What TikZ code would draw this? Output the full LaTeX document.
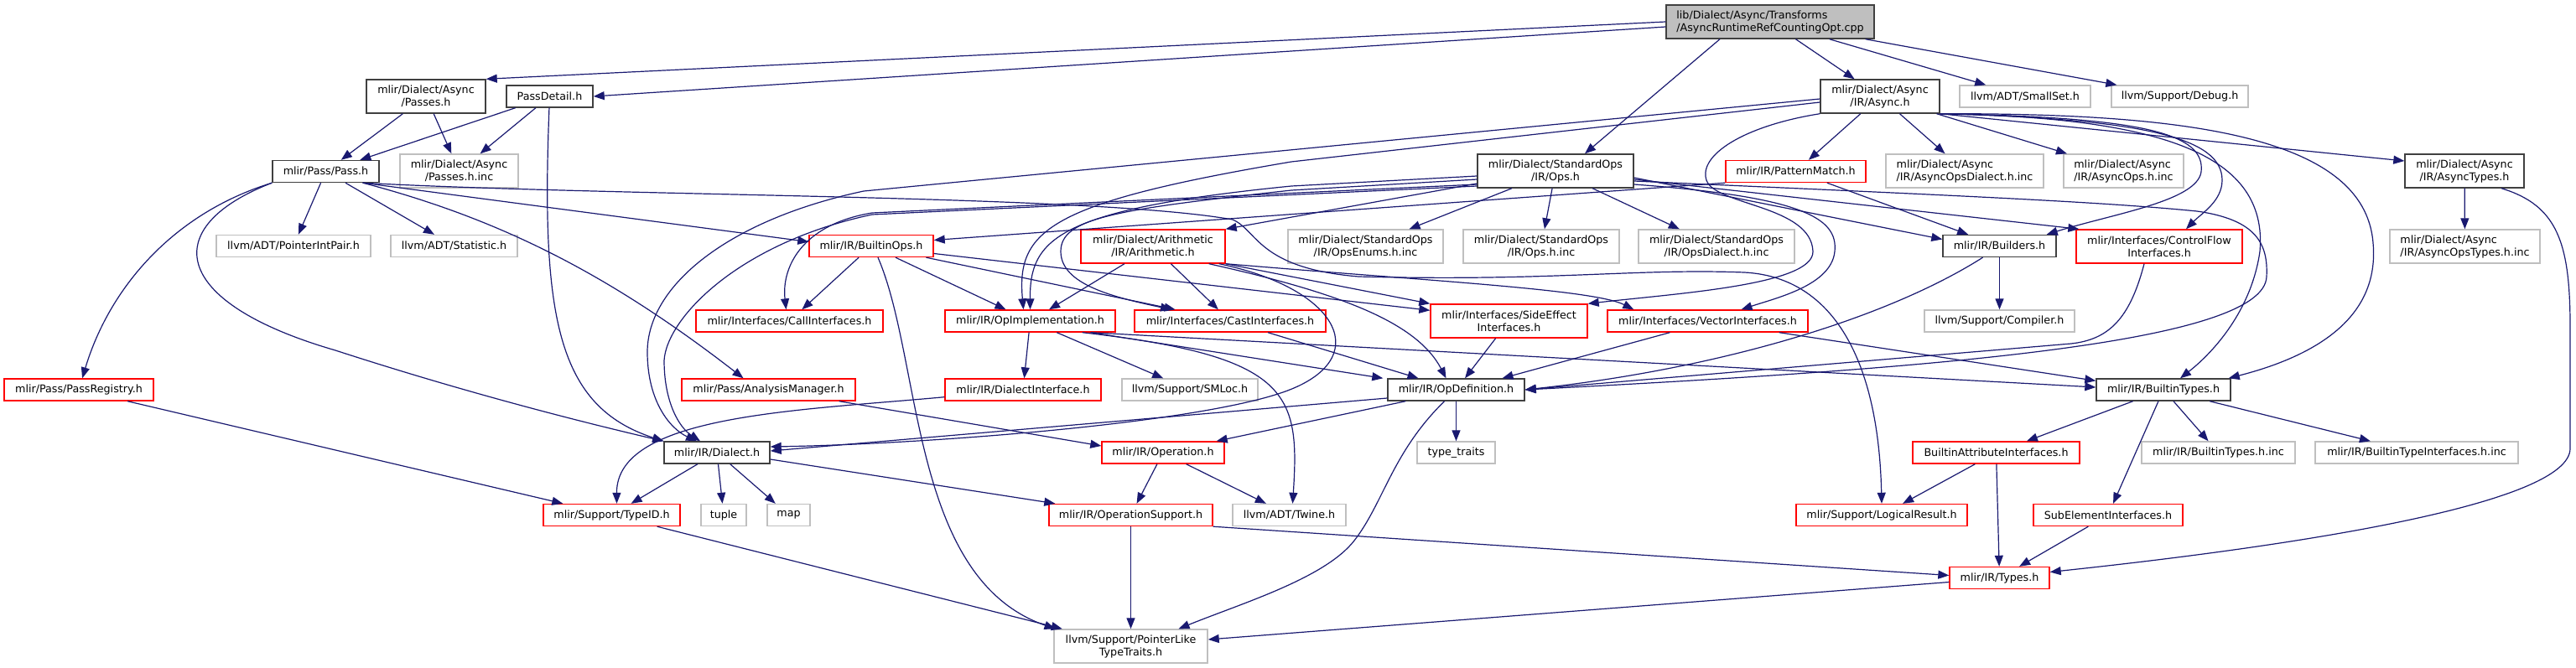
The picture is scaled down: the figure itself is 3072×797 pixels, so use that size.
\documentclass[tikz,border=0pt]{standalone}
\usepackage{fontspec}
\setmainfont{DejaVu Sans}
\usetikzlibrary{arrows.meta}
\definecolor{edgeblue}{HTML}{191970}
\definecolor{boxblack}{HTML}{404040}
\definecolor{boxred}{HTML}{FF0000}
\definecolor{boxgray}{HTML}{BFBFBF}

\begin{document}
\begin{tikzpicture}[x=1pt, y=-1pt,
  hdr/.style={rectangle, inner sep=0pt, line width=1.4pt, align=center, font=\fontsize{12.7}{15}\selectfont, minimum height=26, minimum width=#1},
  blk/.style={hdr=#1, draw=boxblack},
  redb/.style={hdr=#1, draw=boxred},
  gryb/.style={hdr=#1, draw=boxgray},
  two/.style={minimum height=40},
  inc/.style={-{Triangle[length=13pt, width=10pt]}, line width=1.2pt, edgeblue}
]
  \useasboundingbox (0,0) rectangle (3072,797);

  % top rows
  \node[blk=248, two, fill=boxgray, align=left] (root) at (2111,26) {lib/Dialect/Async/Transforms\\/AsyncRuntimeRefCountingOpt.cpp};
  \node[blk=142, two] (apass) at (508,115) {mlir/Dialect/Async\\/Passes.h};
  \node[blk=103] (pdetail) at (655.5,115) {PassDetail.h};
  \node[blk=142, two] (async) at (2242,115) {mlir/Dialect/Async\\/IR/Async.h};
  \node[gryb=156] (smallset) at (2415,115) {llvm/ADT/SmallSet.h};
  \node[gryb=163] (debug) at (2599.5,115) {llvm/Support/Debug.h};
  \node[blk=127] (pass) at (388.5,204.5) {mlir/Pass/Pass.h};
  \node[gryb=141, two] (passinc) at (547.5,204) {mlir/Dialect/Async\\/Passes.h.inc};
  \node[blk=186, two] (stdops) at (1855,204) {mlir/Dialect/StandardOps\\/IR/Ops.h};
  \node[redb=167] (patmatch) at (2141.5,204.5) {mlir/IR/PatternMatch.h};
  \node[gryb=188, two, align=left] (adialinc) at (2343,204) {mlir/Dialect/Async\\/IR/AsyncOpsDialect.h.inc};
  \node[gryb=143, two, align=left] (aopsinc) at (2532.5,204) {mlir/Dialect/Async\\/IR/AsyncOps.h.inc};
  \node[blk=142, two] (atypes) at (2939,204) {mlir/Dialect/Async\\/IR/AsyncTypes.h};

  % middle rows
  \node[gryb=184] (pip) at (350,293.5) {llvm/ADT/PointerIntPair.h};
  \node[gryb=151] (stat) at (541.5,293.5) {llvm/ADT/Statistic.h};
  \node[redb=148] (bops) at (1039,293.5) {mlir/IR/BuiltinOps.h};
  \node[redb=172, two] (arith) at (1375,294) {mlir/Dialect/Arithmetic\\/IR/Arithmetic.h};
  \node[gryb=185, two] (enums) at (1628.5,294) {mlir/Dialect/StandardOps\\/IR/OpsEnums.h.inc};
  \node[gryb=186, two] (opsinc) at (1838,294) {mlir/Dialect/StandardOps\\/IR/Ops.h.inc};
  \node[gryb=186, two] (opsdial) at (2047,294) {mlir/Dialect/StandardOps\\/IR/OpsDialect.h.inc};
  \node[blk=135] (builders) at (2384.5,293.5) {mlir/IR/Builders.h};
  \node[redb=198, two] (ctrlflow) at (2575,294) {mlir/Interfaces/ControlFlow\\Interfaces.h};
  \node[gryb=179, two, align=left] (atypesinc) at (2939.5,294) {mlir/Dialect/Async\\/IR/AsyncOpsTypes.h.inc};
  \node[redb=223] (callif) at (941.5,383) {mlir/Interfaces/CallInterfaces.h};
  \node[redb=203] (opimpl) at (1228.5,383) {mlir/IR/OpImplementation.h};
  \node[redb=228] (castif) at (1467,383) {mlir/Interfaces/CastInterfaces.h};
  \node[redb=187, two] (sideeff) at (1799.5,383) {mlir/Interfaces/SideEffect\\Interfaces.h};
  \node[redb=239] (vecif) at (2036.5,383) {mlir/Interfaces/VectorInterfaces.h};
  \node[gryb=179] (compiler) at (2384.5,383) {llvm/Support/Compiler.h};

  % lower rows
  \node[redb=178] (passreg) at (94,465) {mlir/Pass/PassRegistry.h};
  \node[redb=207] (anamgr) at (916.5,465) {mlir/Pass/AnalysisManager.h};
  \node[redb=186] (dialif) at (1220,465) {mlir/IR/DialectInterface.h};
  \node[gryb=162] (smloc) at (1419,465) {llvm/Support/SMLoc.h};
  \node[blk=163] (opdef) at (1736.5,465) {mlir/IR/OpDefinition.h};
  \node[blk=160] (btypes) at (2580,465) {mlir/IR/BuiltinTypes.h};
  \node[blk=126] (dialect) at (855,540) {mlir/IR/Dialect.h};
  \node[redb=146] (operation) at (1387,540) {mlir/IR/Operation.h};
  \node[gryb=93] (ttraits) at (1736.5,540) {type\_traits};
  \node[redb=199] (battrif) at (2380.5,540) {BuiltinAttributeInterfaces.h};
  \node[gryb=183] (btypesinc) at (2645.5,540) {mlir/IR/BuiltinTypes.h.inc};
  \node[gryb=242] (btifinc) at (2882,540) {mlir/IR/BuiltinTypeInterfaces.h.inc};
  \node[redb=163] (typeid) at (729.5,614.5) {mlir/Support/TypeID.h};
  \node[gryb=54] (tuple) at (863,614.5) {tuple};
  \node[gryb=51] (map) at (940.5,614.5) {map};
  \node[redb=195] (opsupport) at (1348.5,614.5) {mlir/IR/OperationSupport.h};
  \node[gryb=135] (twine) at (1537.5,614.5) {llvm/ADT/Twine.h};
  \node[redb=204] (logres) at (2244,614.5) {mlir/Support/LogicalResult.h};
  \node[redb=178] (subelem) at (2514,614.5) {SubElementInterfaces.h};
  \node[redb=119] (types) at (2384.5,689.5) {mlir/IR/Types.h};
  \node[gryb=183, two] (pltt) at (1348.5,771) {llvm/Support/PointerLike\\TypeTraits.h};

  % plain includes
  \foreach \a/\b in {root/async, root/smallset, root/debug, apass/pass, apass/passinc,
      pdetail/pass, pdetail/passinc, pass/pip, pass/stat, dialect/typeid, dialect/tuple,
      dialect/map, typeid/pltt, passreg/typeid, bops/callif, bops/opimpl, bops/castif,
      arith/opimpl, arith/castif, stdops/enums, stdops/opsinc, stdops/opsdial,
      async/patmatch, async/adialinc, async/aopsinc, patmatch/builders, builders/compiler,
      castif/opdef, sideeff/opdef, opimpl/dialif, opimpl/smloc, opdef/ttraits,
      operation/opsupport, operation/twine, opsupport/pltt, btypes/battrif, btypes/subelem,
      btypes/btypesinc, btypes/btifinc, battrif/logres, battrif/types, subelem/types,
      atypes/atypesinc}
    \draw[inc] (\a) -- (\b);

  % root file
  \draw[inc] (root.west) -- (apass.north east);
  \draw[inc] ([yshift=-6]root.west) -- (pdetail.east);
  \draw[inc] ([xshift=-60]root.south) -- ([xshift=35]stdops.north);

  % pass headers
  \draw[inc] (pdetail) .. controls (645,380) and (665,485) .. (dialect.north west);
  \draw[inc] (pass.south west) .. controls (205,255) and (130,345) .. (passreg);
  \draw[inc] (pass.south west) .. controls (190,270) and (200,360) .. (400,418) .. controls (560,470) and (700,505) .. (dialect.north west);
  \draw[inc] ([xshift=-20]pass.south east) .. controls (600,262) and (730,330) .. ([xshift=-30]anamgr.north);
  \draw[inc] ([xshift=-20]pass.south east) -- ([yshift=5]bops.west);
  \draw[inc] ([xshift=-20]pass.south east) .. controls (750,235) and (1300,232) .. (1470,262)
    .. controls (1500,275) and (1500,320) .. (1620,330) .. controls (1850,336) and (1950,320) .. (2080,325)
    .. controls (2180,330) and (2240,420) .. (logres.north);
  \draw[inc] ([xshift=-20]anamgr.south east) -- ([yshift=8]operation.west);

  % BuiltinOps and Arithmetic
  \draw[inc] ([yshift=-9]bops.east) -- ([yshift=-8]sideeff.north west);
  \draw[inc] ([xshift=8]bops.south) .. controls (1100,430) and (1085,690) .. ([xshift=-90]pltt.north);
  \draw[inc] ([xshift=-8]arith.south east) .. controls (1600,345) and (1640,430) .. (1530,468)
    .. controls (1420,506) and (1100,530) .. ([yshift=7]dialect.east);
  \draw[inc] (arith.south east) -- (sideeff.north west);
  \draw[inc] (arith.south east) .. controls (1700,335) and (1900,345) .. ([xshift=32]vecif.north west);
  \draw[inc] ([xshift=-20]arith.south east) .. controls (1600,350) and (1690,385) .. ([xshift=-12]opdef.north);

  % StandardOps
  \draw[inc] ([yshift=-15]stdops.west) -- (arith.north east);
  \draw[inc] ([yshift=-6]stdops.west) -- (1540,222) .. controls (1260,250) and (1228,285) .. (opimpl.north);
  \draw[inc] ([yshift=-10]stdops.west) -- (1540,227) .. controls (1330,250) and (1265,260) .. (1265,300)
    .. controls (1265,340) and (1330,355) .. ([xshift=-70]castif.north);
  \draw[inc] ([yshift=-16]stdops.west) -- (1040,254) .. controls (955,268) and (932,320) .. ([xshift=-4]callif.north);
  \draw[inc] ([yshift=-18]stdops.west) -- (1040,256) .. controls (880,290) and (795,380) .. (792,430)
    .. controls (792,480) and (810,510) .. ([xshift=-20]dialect.north);
  \draw[inc] ([yshift=-8]stdops.east) -- ([yshift=8]builders.west);
  \draw[inc] ([yshift=-10]stdops.east) -- ([xshift=4]ctrlflow.north west);
  \draw[inc] ([yshift=-12]stdops.east) .. controls (2300,232) and (2500,240) .. (2620,252)
    .. controls (2690,262) and (2705,290) .. (2703,330) .. controls (2700,410) and (2300,440) .. (opdef.east);
  \draw[inc] ([yshift=-16]stdops.east) .. controls (2150,235) and (2192,260) .. (2188,300)
    .. controls (2184,340) and (2120,355) .. ([xshift=40]vecif.north);

  % Async
  \draw[inc] ([yshift=-3]async.west) -- (1030,228) .. controls (870,262) and (772,340) .. (772,420)
    .. controls (772,480) and (800,512) .. ([xshift=-24]dialect.north);
  \draw[inc] ([yshift=-7]async.west) -- (1540,193) .. controls (1250,242) and (1212,275) .. ([xshift=-8]opimpl.north);
  \draw[inc] (async.south west) .. controls (2080,150) and (2025,185) .. (2035,215)
    .. controls (2045,245) and (2160,245) .. (2162,300) .. controls (2163,340) and (2000,350) .. (sideeff.north east);
  \draw[inc] (async.south east) -- ([yshift=12]atypes.west);
  \draw[inc] (async.south east) .. controls (2600,135) and (2820,160) .. (2830,290)
    .. controls (2838,380) and (2760,425) .. ([xshift=-3]btypes.north east);
  \draw[inc] (async.south east) .. controls (2580,140) and (2705,185) .. (2695,300)
    .. controls (2685,370) and (2640,420) .. ([xshift=20]btypes.north);
  \draw[inc] (async.south east) .. controls (2560,142) and (2650,165) .. (2650,215)
    .. controls (2650,240) and (2625,255) .. ([xshift=32]ctrlflow.north);
  \draw[inc] (async.south east) .. controls (2560,140) and (2630,160) .. (2625,205)
    .. controls (2620,240) and (2520,255) .. ([xshift=-12]builders.north east);
  \draw[inc] (patmatch.south west) -- ([yshift=7]bops.east);

  % interfaces and IR
  \draw[inc] ([xshift=-20]builders.south) .. controls (2250,380) and (2050,440) .. (opdef.east);
  \draw[inc] ([xshift=-18]ctrlflow.south) .. controls (2540,380) and (2515,405) .. (2470,410) -- (opdef.east);
  \draw[inc] ([xshift=-45]vecif.south) -- ([xshift=55]opdef.north);
  \draw[inc] ([xshift=-35]vecif.south east) -- ([yshift=-3]btypes.north west);
  \draw[inc] ([xshift=-40]opimpl.south east) .. controls (1540,425) and (1550,470) .. ([xshift=4]twine.north);
  \draw[inc] ([xshift=-30]opimpl.south east) -- ([xshift=-5]opdef.north west);
  \draw[inc] ([xshift=-30]opimpl.south east) -- ([yshift=3]btypes.west);
  \draw[inc] ([yshift=-10]opdef.west) -- ([yshift=2]dialect.east);
  \draw[inc] ([xshift=22]opdef.south west) -- ([xshift=-10]operation.north east);
  \draw[inc] ([xshift=-14]opdef.south) .. controls (1660,540) and (1650,600) .. (1615,645)
    .. controls (1580,690) and (1480,720) .. ([xshift=57]pltt.north);
  \draw[inc] ([yshift=5]dialif.south west) .. controls (950,490) and (735,495) .. ([xshift=6]typeid.north);
  \draw[inc] ([yshift=-8]dialect.east) -- ([xshift=8]opsupport.north west);
  \draw[inc] (opsupport.south east) -- ([yshift=3]types.west);
  \draw[inc] ([yshift=-5]types.west) -- ([yshift=8]pltt.east);
  \draw[inc] ([xshift=44]atypes.south) .. controls (3050,245) and (3065,290) .. (3065,390) -- (3065,535)
    .. controls (3065,600) and (2750,650) .. ([yshift=7]types.east);
\end{tikzpicture}
\end{document}
